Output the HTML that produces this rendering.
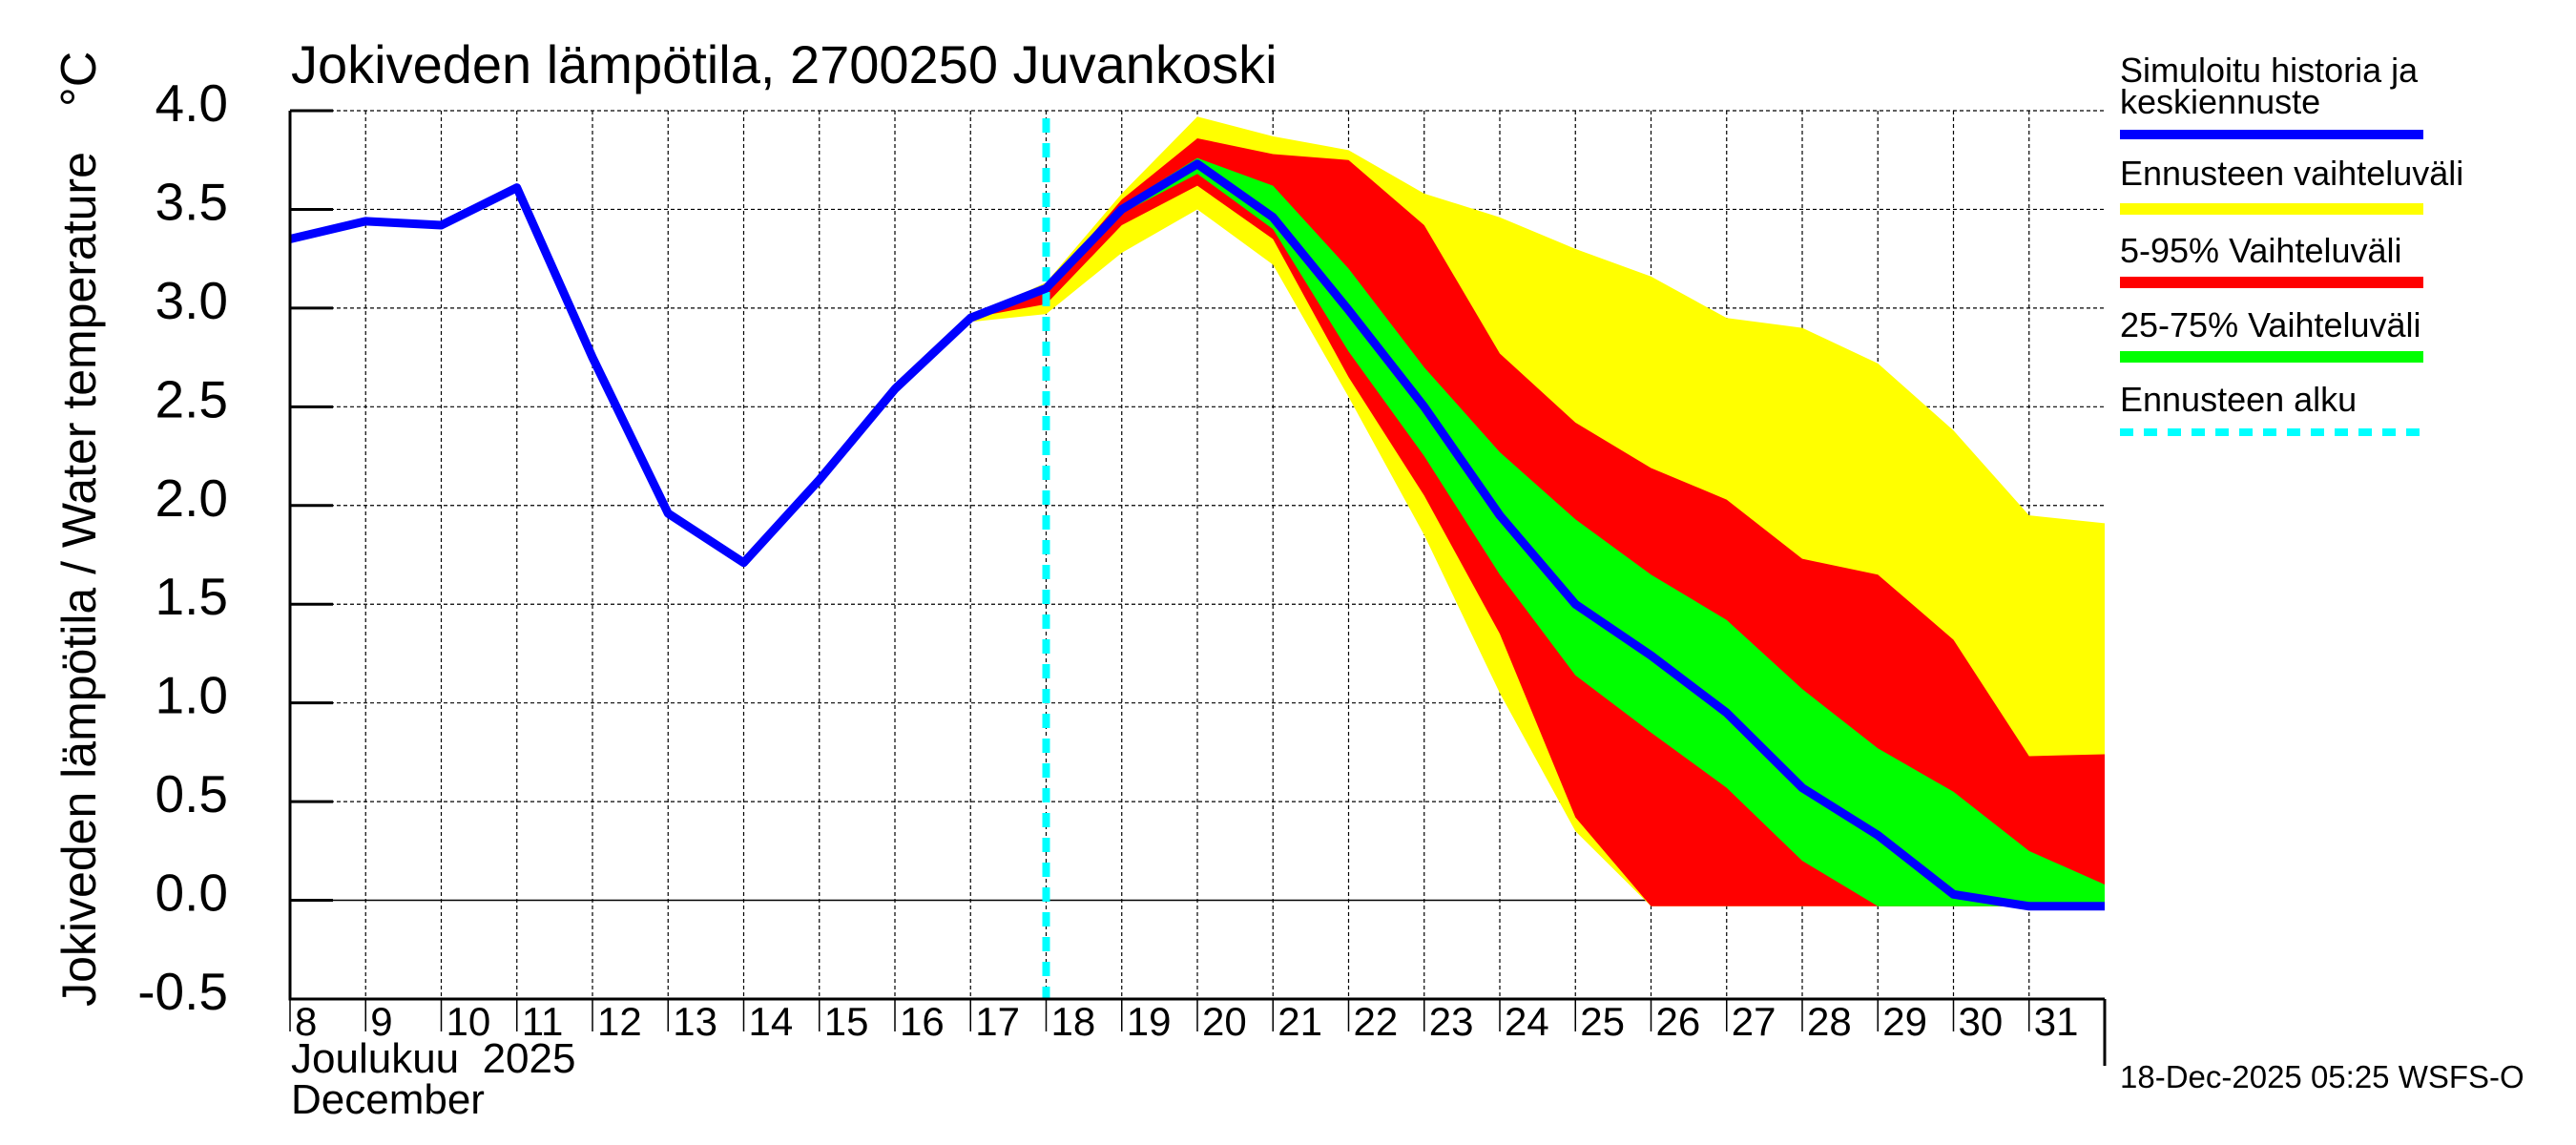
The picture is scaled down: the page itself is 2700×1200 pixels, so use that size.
<!DOCTYPE html>
<html><head><meta charset="utf-8"><style>
html,body{margin:0;padding:0;background:#fff;}
svg{display:block;font-family:"Liberation Sans",sans-serif;}
</style></head><body>
<svg id="chart" width="2700" height="1200" viewBox="0 0 2700 1200" xmlns="http://www.w3.org/2000/svg">
<g id="grid"></g>
<g id="bands"></g>
<g id="lines"></g>
<g id="axes"></g>
<text x="305" y="87" font-size="56">Jokiveden lämpötila, 2700250 Juvankoski</text>
<text transform="translate(100,607) rotate(-90)" text-anchor="middle" font-size="50">Jokiveden lämpötila / Water temperature</text>
<text transform="translate(100,112) rotate(-90)" font-size="52">°C</text>
<text x="305" y="1124" font-size="44">Joulukuu&#160; 2025</text>
<text x="305" y="1167" font-size="44">December</text>
<text x="2222" y="1140" font-size="33">18-Dec-2025 05:25 WSFS-O</text>
<g>
<text x="2222" y="86" font-size="36">Simuloitu historia ja</text>
<text x="2222" y="119" font-size="36">keskiennuste</text>
<line x1="2222" y1="141" x2="2540" y2="141" stroke="#0000ff" stroke-width="10"/>
<text x="2222" y="194" font-size="36">Ennusteen vaihteluväli</text>
<line x1="2222" y1="219" x2="2540" y2="219" stroke="#ffff00" stroke-width="12"/>
<text x="2222" y="275" font-size="36">5-95% Vaihteluväli</text>
<line x1="2222" y1="296" x2="2540" y2="296" stroke="#ff0000" stroke-width="12"/>
<text x="2222" y="353" font-size="36">25-75% Vaihteluväli</text>
<line x1="2222" y1="374" x2="2540" y2="374" stroke="#00ff00" stroke-width="12"/>
<text x="2222" y="431" font-size="36">Ennusteen alku</text>
<line x1="2222" y1="453" x2="2540" y2="453" stroke="#00ffff" stroke-width="8" stroke-dasharray="14,11"/>
</g>
</svg>
<script>
const histDays = [8,9,10,11,12,13,14,15,16,17,18,19,20,21,22,23,24,25,26,27,28,29,30,31,32];
const histVals = [3.35,3.44,3.42,3.61,2.75,1.96,1.71,2.13,2.59,2.95,3.1,3.5,3.73,3.46,2.99,2.5,1.95,1.5,1.24,0.95,0.57,0.33,0.03,-0.03,-0.03];
const bandDays = [17,18,19,20,21,22,23,24,25,26,27,28,29,30,31,32];
const yellowHi = [2.95,3.13,3.58,3.97,3.87,3.8,3.58,3.46,3.3,3.16,2.95,2.9,2.72,2.38,1.95,1.91];
const yellowLo = [2.93,2.97,3.28,3.5,3.22,2.55,1.85,1.05,0.35,-0.03,-0.03,-0.03,-0.03,-0.03,-0.03,-0.03];
const redHi = [2.95,3.1,3.55,3.86,3.78,3.75,3.42,2.77,2.42,2.19,2.03,1.73,1.65,1.32,0.73,0.74];
const redLo = [2.95,3.02,3.42,3.62,3.35,2.65,2.05,1.35,0.42,-0.03,-0.03,-0.03,-0.03,-0.03,-0.03,-0.03];
const greenHi = [2.95,3.1,3.52,3.76,3.62,3.2,2.7,2.27,1.93,1.65,1.42,1.07,0.77,0.55,0.25,0.08];
const greenLo = [2.95,3.08,3.48,3.68,3.4,2.78,2.25,1.65,1.14,0.85,0.57,0.2,-0.03,-0.03,-0.03,-0.03];
const yTicks = [4.0,3.5,3.0,2.5,2.0,1.5,1.0,0.5,0.0,-0.5];
const yTickLabels = ["4.0","3.5","3.0","2.5","2.0","1.5","1.0","0.5","0.0","-0.5"];
const xTickDays = [8,9,10,11,12,13,14,15,16,17,18,19,20,21,22,23,24,25,26,27,28,29,30,31];
const forecastStart = 18;

const NS = "http://www.w3.org/2000/svg";
const X0 = 304, X1 = 2206, D0 = 8, D1 = 32, Y0 = 1047, Y1 = 116, V0 = -0.5, V1 = 4.0;
function xs(d){ return X0 + (d - D0) * (X1 - X0) / (D1 - D0); }
function ys(v){ return Y0 - (v - V0) * (Y0 - Y1) / (V1 - V0); }
function mk(tag, attrs, parent){ const e = document.createElementNS(NS, tag); for (const k in attrs) e.setAttribute(k, attrs[k]); parent.appendChild(e); return e; }

const grid = document.getElementById('grid'), bands = document.getElementById('bands'), lines = document.getElementById('lines'), axes = document.getElementById('axes');

yTicks.forEach((v, i) => {
  const y = ys(v);
  const g = mk('line', {x1: X0, y1: y, x2: X1, y2: y, stroke: '#000', 'stroke-width': v === 0 ? 1.5 : 1.2, 'stroke-dasharray': v === 0 ? 'none' : '4,3'}, grid);
  
  
  const t = mk('line', {x1: X0, y1: y, x2: X0 + 45, y2: y, stroke: '#000', 'stroke-width': 3}, axes);
  
  
  const lb = mk('text', {x: X0 - 65, y: y + 11, 'text-anchor': 'end', 'font-size': 55}, axes);
  lb.textContent = yTickLabels[i];
  
  
});
xTickDays.forEach(d => {
  const x = xs(d);
  if (d > D0) {
    const g = mk('line', {x1: x, y1: Y1, x2: x, y2: Y0, stroke: '#000', 'stroke-width': 1.2, 'stroke-dasharray': '4,3'}, grid);
    
    
  }
  const t = mk('line', {x1: x, y1: Y0, x2: x, y2: Y0 + 34, stroke: '#000', 'stroke-width': 1.5}, axes);
  
  
  const lb = mk('text', {x: x + 5, y: Y0 + 38, 'font-size': 42}, axes);
  lb.textContent = String(d);
  
  
});
const ra = mk('line', {x1: X1, y1: Y0, x2: X1, y2: 1117, stroke: '#000', 'stroke-width': 3}, axes);



function band(hi, lo, color, name){
  let pts = [];
  bandDays.forEach((d, i) => pts.push(xs(d) + ',' + ys(hi[i])));
  for (let i = bandDays.length - 1; i >= 0; i--) pts.push(xs(bandDays[i]) + ',' + ys(lo[i]));
  const p = mk('polygon', {points: pts.join(' '), fill: color}, bands);
  
  
}
band(yellowHi, yellowLo, '#ffff00', 'band-forecast-range');
band(redHi, redLo, '#ff0000', 'band-5-95');
band(greenHi, greenLo, '#00ff00', 'band-25-75');

const cy = mk('line', {x1: xs(forecastStart), y1: Y1 + 8, x2: xs(forecastStart), y2: Y0, stroke: '#00ffff', 'stroke-width': 8, 'stroke-dasharray': '15,11'}, lines);



const hl = mk('polyline', {points: histDays.map((d, i) => xs(d) + ',' + ys(histVals[i])).join(' '), fill: 'none', stroke: '#0000ff', 'stroke-width': 9, 'stroke-linejoin': 'round'}, lines);



const ax = mk('polyline', {points: X0 + ',' + Y1 + ' ' + X0 + ',' + Y0 + ' ' + X1 + ',' + Y0, fill: 'none', stroke: '#000', 'stroke-width': 3}, axes);


</script>
</body></html>
